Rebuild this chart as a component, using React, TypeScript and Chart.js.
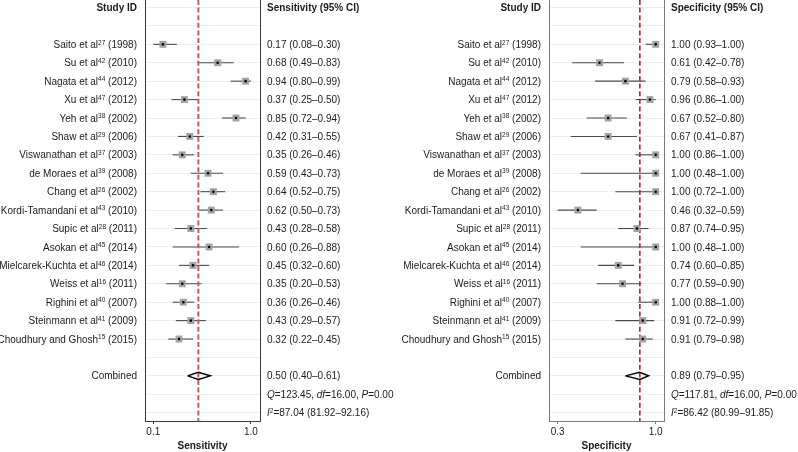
import React, { useEffect, useRef } from "react";
import { Chart, registerables } from "chart.js";

Chart.register(...registerables);

// ---------------- data ----------------
const studyNames = [
  "Saito et al", "Su et al", "Nagata et al", "Xu et al", "Yeh et al", "Shaw et al",
  "Viswanathan et al", "de Moraes et al", "Chang et al", "Kordi-Tamandani et al",
  "Supic et al", "Asokan et al", "Mielcarek-Kuchta et al", "Weiss et al",
  "Righini et al", "Steinmann et al", "Choudhury and Ghosh",
];
const studyRefs = ["27", "42", "44", "47", "38", "29", "37", "39", "26", "43", "28", "45", "46", "16", "40", "41", "15"];
const studyYears = ["1998", "2010", "2012", "2012", "2002", "2006", "2003", "2008", "2002", "2010", "2011", "2014", "2014", "2011", "2007", "2009", "2015"];

const sensEst = [0.17, 0.68, 0.94, 0.37, 0.85, 0.42, 0.35, 0.59, 0.64, 0.62, 0.43, 0.60, 0.45, 0.35, 0.36, 0.43, 0.32];
const sensLo = [0.08, 0.49, 0.80, 0.25, 0.72, 0.31, 0.26, 0.43, 0.52, 0.50, 0.28, 0.26, 0.32, 0.20, 0.26, 0.29, 0.22];
const sensHi = [0.30, 0.83, 0.99, 0.50, 0.94, 0.55, 0.46, 0.73, 0.75, 0.73, 0.58, 0.88, 0.60, 0.53, 0.46, 0.57, 0.45];
const sensPooled = [0.50, 0.40, 0.61];
const sensQ = ["123.45", "16.00", "0.00"];
const sensI2 = ["87.04", "81.92", "92.16"];

const specEst = [1.00, 0.61, 0.79, 0.96, 0.67, 0.67, 1.00, 1.00, 1.00, 0.46, 0.87, 1.00, 0.74, 0.77, 1.00, 0.91, 0.91];
const specLo = [0.93, 0.42, 0.58, 0.86, 0.52, 0.41, 0.86, 0.48, 0.72, 0.32, 0.74, 0.48, 0.60, 0.59, 0.88, 0.72, 0.79];
const specHi = [1.00, 0.78, 0.93, 1.00, 0.80, 0.87, 1.00, 1.00, 1.00, 0.59, 0.95, 1.00, 0.85, 0.90, 1.00, 0.99, 0.98];
const specPooled = [0.89, 0.79, 0.95];
const specQ = ["117.81", "16.00", "0.00"];
const specI2 = ["86.42", "80.99", "91.85"];

// ---------------- helpers ----------------
const FONT = "'Liberation Sans', Arial, Helvetica, sans-serif";
const TEXT = "#1b1b1b";

type Seg = { t: string; s?: "b" | "i" | "sup" };

function fontFor(s?: string) {
  if (s === "b") return `bold 10px ${FONT}`;
  if (s === "i") return `italic 10px ${FONT}`;
  if (s === "sup") return `6.5px ${FONT}`;
  return `10px ${FONT}`;
}

function drawRich(ctx: CanvasRenderingContext2D, segs: Seg[], x: number, yMid: number, align: "left" | "right") {
  const widths: number[] = [];
  let total = 0;
  for (const g of segs) {
    ctx.font = fontFor(g.s);
    const w = ctx.measureText(g.t).width;
    widths.push(w);
    total += w;
  }
  let cx = align === "right" ? x - total : x;
  const base = yMid + 3.6;
  ctx.textAlign = "left";
  ctx.textBaseline = "alphabetic";
  ctx.fillStyle = TEXT;
  segs.forEach((g, k) => {
    ctx.font = fontFor(g.s);
    ctx.fillText(g.t, cx, g.s === "sup" ? base - 3.4 : base);
    cx += widths[k];
  });
}

const fmt = (v: number) => v.toFixed(2);

type PanelProps = {
  est: number[];
  lo: number[];
  hi: number[];
  pooled: number[];
  q: string[];
  i2: string[];
  measure: string;
  xMin: number;
  xMax: number;
  padLeft: number;
  padRight: number;
  borderColor: string;
  refColor: string;
  refWidth: number;
  left: number;
};

const Y_MIN = -0.407;
const Y_MAX = 22.45;
const STUDY_ROW0 = 2;
const COMBINED_ROW = 20;

function ForestPanel(p: PanelProps) {
  const ref = useRef<HTMLCanvasElement | null>(null);

  useEffect(() => {
    if (!ref.current) return;
    const rows = Array.from({ length: 23 }, (_, k) => k);
    const datasets: any[] = [];

    // CI lines
    p.est.forEach((_, i) => {
      datasets.push({
        data: [
          { x: p.lo[i], y: i + STUDY_ROW0 },
          { x: p.hi[i], y: i + STUDY_ROW0 },
        ],
        showLine: true,
        borderColor: "#4a4a4a",
        borderWidth: 1.1,
        pointRadius: 0,
        order: 5,
      });
    });
    // reference (pooled) line
    datasets.push({
      data: [
        { x: p.pooled[0], y: Y_MIN },
        { x: p.pooled[0], y: Y_MAX },
      ],
      showLine: true,
      borderColor: p.refColor,
      borderWidth: p.refWidth,
      borderDash: [5, 2.6],
      pointRadius: 0,
      order: 4,
    });
    // pooled diamond
    const h = 0.19;
    datasets.push({
      data: [
        { x: p.pooled[1], y: COMBINED_ROW },
        { x: p.pooled[0], y: COMBINED_ROW - h },
        { x: p.pooled[2], y: COMBINED_ROW },
        { x: p.pooled[0], y: COMBINED_ROW + h },
        { x: p.pooled[1], y: COMBINED_ROW },
      ],
      showLine: true,
      borderColor: "#000",
      borderWidth: 1.5,
      pointRadius: 0,
      fill: false,
      order: 3,
    });
    // squares
    datasets.push({
      data: p.est.map((v, i) => ({ x: v, y: i + STUDY_ROW0 })),
      pointStyle: "rect",
      pointRadius: 4.9,
      backgroundColor: "#a2a2a2",
      borderColor: "#a2a2a2",
      borderWidth: 0,
      showLine: false,
      order: 2,
    });
    // centre dots
    datasets.push({
      data: p.est.map((v, i) => ({ x: v, y: i + STUDY_ROW0 })),
      pointStyle: "circle",
      pointRadius: 1.3,
      backgroundColor: "#000",
      borderWidth: 0,
      showLine: false,
      order: 1,
    });

    const textPlugin = {
      id: "forestText",
      afterDraw(chart: any) {
        const ctx: CanvasRenderingContext2D = chart.ctx;
        const ys = chart.scales.y;
        const area = chart.chartArea;
        const lx = area.left - 8;
        const vx = area.right + 7;
        ctx.save();
        drawRich(ctx, [{ t: "Study ID", s: "b" }], lx, ys.getPixelForValue(0), "right");
        drawRich(ctx, [{ t: `${p.measure} (95% CI)`, s: "b" }], vx, ys.getPixelForValue(0), "left");
        p.est.forEach((v, i) => {
          const y = ys.getPixelForValue(i + STUDY_ROW0);
          drawRich(
            ctx,
            [{ t: studyNames[i] }, { t: studyRefs[i], s: "sup" }, { t: ` (${studyYears[i]})` }],
            lx,
            y,
            "right"
          );
          drawRich(ctx, [{ t: `${fmt(v)} (${fmt(p.lo[i])}–${fmt(p.hi[i])})` }], vx, y, "left");
        });
        const yc = ys.getPixelForValue(COMBINED_ROW);
        drawRich(ctx, [{ t: "Combined" }], lx, yc, "right");
        drawRich(
          ctx,
          [{ t: `${fmt(p.pooled[0])} (${fmt(p.pooled[1])}–${fmt(p.pooled[2])})` }],
          vx,
          yc,
          "left"
        );
        drawRich(
          ctx,
          [
            { t: "Q", s: "i" },
            { t: `=${p.q[0]}, ` },
            { t: "df", s: "i" },
            { t: `=${p.q[1]}, ` },
            { t: "P", s: "i" },
            { t: `=${p.q[2]}` },
          ],
          vx,
          ys.getPixelForValue(COMBINED_ROW + 1),
          "left"
        );
        drawRich(
          ctx,
          [
            { t: "I", s: "i" },
            { t: "2", s: "sup" },
            { t: `=${p.i2[0]} (${p.i2[1]}–${p.i2[2]})` },
          ],
          vx,
          ys.getPixelForValue(COMBINED_ROW + 2),
          "left"
        );
        ctx.restore();
      },
    };

    const minTick = Math.min(...p.lo);
    const maxTick = Math.max(...p.hi);

    const chart = new Chart(ref.current, {
      type: "scatter",
      data: { datasets },
      options: {
        animation: false,
        responsive: false,
        devicePixelRatio: 1,
        layout: { autoPadding: false, padding: { left: p.padLeft, right: p.padRight, top: 0, bottom: 0 } },
        plugins: { legend: { display: false }, tooltip: { enabled: false } },
        scales: {
          x: {
            type: "linear",
            position: "bottom",
            min: p.xMin,
            max: p.xMax,
            afterBuildTicks: (s: any) => {
              s.ticks = [{ value: minTick }, { value: maxTick }];
            },
            ticks: {
              callback: (v: any) => Number(v).toFixed(1),
              font: { size: 10, family: FONT },
              color: TEXT,
              padding: 2,
              maxRotation: 0,
              autoSkip: false,
            },
            grid: { drawOnChartArea: false, drawTicks: true, tickLength: 3, color: p.borderColor },
            border: { display: true, color: p.borderColor, width: 1 },
            title: {
              display: true,
              text: p.measure,
              font: { size: 10, weight: "bold", family: FONT },
              color: TEXT,
              padding: { top: 0, bottom: 0 },
            },
            afterFit: (s: any) => {
              s.height = 31;
            },
          },
          y: {
            type: "linear",
            position: "left",
            reverse: true,
            min: Y_MIN,
            max: Y_MAX,
            afterBuildTicks: (s: any) => {
              s.ticks = rows.map((v) => ({ value: v }));
            },
            ticks: { display: false },
            grid: { color: "#eaeff3", drawTicks: false, lineWidth: 1 },
            border: { display: true, color: p.borderColor, width: 1 },
            afterFit: (s: any) => {
              s.width = 0;
            },
          },
          yr: {
            type: "linear",
            axis: "y",
            position: "right",
            reverse: true,
            min: Y_MIN,
            max: Y_MAX,
            ticks: { display: false },
            grid: { display: false, drawTicks: false },
            border: { display: true, color: p.borderColor, width: 1 },
            afterFit: (s: any) => {
              s.width = 0;
            },
          },
        },
      } as any,
      plugins: [textPlugin],
    });
    return () => chart.destroy();
  }, []);

  return (
    <div style={{ position: "absolute", left: p.left, top: 0, width: 399, height: 452 }}>
      <canvas ref={ref} width={399} height={452} style={{ width: 399, height: 452, display: "block" }} />
    </div>
  );
}

export default function App() {
  return (
    <div style={{ position: "fixed", left: 0, top: 0, width: 798, height: 452, background: "#fff", overflow: "hidden" }}>
      <ForestPanel
        est={sensEst}
        lo={sensLo}
        hi={sensHi}
        pooled={sensPooled}
        q={sensQ}
        i2={sensI2}
        measure="Sensitivity"
        xMin={0.003}
        xMax={1.074}
        padLeft={145}
        padRight={139}
        borderColor="#3a3a3a"
        refColor="#c65a5c"
        refWidth={2}
        left={0}
      />
      <ForestPanel
        est={specEst}
        lo={specLo}
        hi={specHi}
        pooled={specPooled}
        q={specQ}
        i2={specI2}
        measure="Specificity"
        xMin={0.2596}
        xMax={1.0576}
        padLeft={150}
        padRight={134}
        borderColor="#7a7a7a"
        refColor="#b3202f"
        refWidth={1.6}
        left={399}
      />
    </div>
  );
}
